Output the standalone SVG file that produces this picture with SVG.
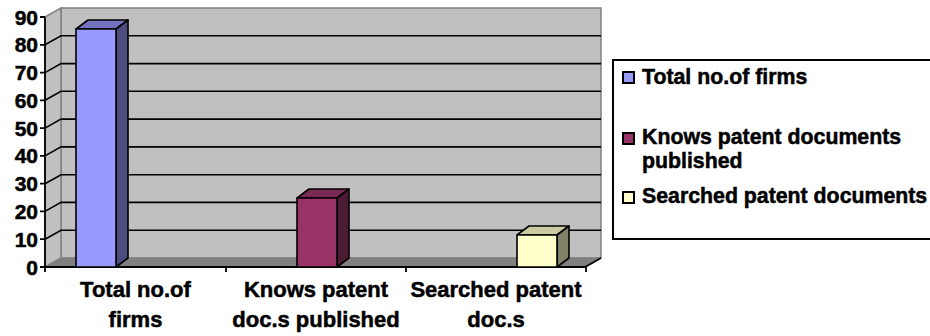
<svg xmlns="http://www.w3.org/2000/svg" width="930" height="336" viewBox="0 0 930 336">
<style>
text{font-family:"Liberation Sans",Arial,sans-serif;font-weight:bold;fill:#000;stroke:#000;stroke-width:0.5}
.ax{font-size:21px;text-anchor:end}
.cat{font-size:22px;text-anchor:middle}
.leg{font-size:21.3px}
.grid{stroke:#000;stroke-width:1.6;fill:none}
.wall{fill:#C0C0C0;stroke:#808080;stroke-width:1.5}
.bar{stroke:#000;stroke-width:1.6;stroke-linejoin:round}
</style>
<rect width="930" height="336" fill="#fff"/>
<g id="plot">
<polygon class="wall" points="61,8 601,8 601,258 61,258"/>
<polygon class="wall" points="45,17 61,8 61,258 45,267"/>
<polygon points="45,267 61,258 601,258 585,267" fill="#808080" stroke="#808080"/>
<g class="grid">
<polyline points="45,44.8 61,35.8 601,35.8"/>
<polyline points="45,72.6 61,63.6 601,63.6"/>
<polyline points="45,100.3 61,91.3 601,91.3"/>
<polyline points="45,128.1 61,119.1 601,119.1"/>
<polyline points="45,155.9 61,146.9 601,146.9"/>
<polyline points="45,183.7 61,174.7 601,174.7"/>
<polyline points="45,211.4 61,202.4 601,202.4"/>
<polyline points="45,239.2 61,230.2 601,230.2"/>
</g>
</g>
<g id="axes" stroke="#000" stroke-width="1.8" fill="none">
<line x1="45" y1="17" x2="45" y2="267"/>
<path d="M40,17H45M40,44.8H45M40,72.6H45M40,100.3H45M40,128.1H45M40,155.9H45M40,183.7H45M40,211.4H45M40,239.2H45M40,267H45"/>
<polyline points="45,267 585,267 601,258"/>
<path d="M45,267V272M226,267V272M406,267V272M586,267V272"/>
</g>
<g id="ylabels">
<text class="ax" x="38" y="24.5">90</text>
<text class="ax" x="38" y="52.3">80</text>
<text class="ax" x="38" y="80.1">70</text>
<text class="ax" x="38" y="107.8">60</text>
<text class="ax" x="38" y="135.6">50</text>
<text class="ax" x="38" y="163.4">40</text>
<text class="ax" x="38" y="191.2">30</text>
<text class="ax" x="38" y="218.9">20</text>
<text class="ax" x="38" y="246.7">10</text>
<text class="ax" x="38" y="274.5">0</text>
</g>
<g id="bar1" class="bar">
<polygon points="76,29 88,20 128,20 116,29" fill="#7373BF"/>
<polygon points="116,29 128,20 128,258 116,267" fill="#4D4D80"/>
<rect x="76" y="29" width="40" height="238" fill="#9999FF"/>
</g>
<g id="bar2" class="bar">
<polygon points="297,198 309,189 349,189 337,198" fill="#7A2952"/>
<polygon points="337,198 349,189 349,258 337,267" fill="#4D1A33"/>
<rect x="297" y="198" width="40" height="69" fill="#993366"/>
</g>
<g id="bar3" class="bar">
<polygon points="517,235 529,226 569,226 557,235" fill="#CCCCA3"/>
<polygon points="557,235 569,226 569,258 557,267" fill="#808066"/>
<rect x="517" y="235" width="40" height="32" fill="#FFFFCC"/>
</g>
<g id="xlabels">
<text class="cat" x="135.5" y="297">Total no.of</text>
<text class="cat" x="135.5" y="327">firms</text>
<text class="cat" x="316" y="297">Knows patent</text>
<text class="cat" x="316" y="327">doc.s published</text>
<text class="cat" x="496" y="297">Searched patent</text>
<text class="cat" x="496" y="327">doc.s</text>
</g>
<g id="legend">
<rect x="613" y="60" width="330" height="179" fill="#fff" stroke="#000" stroke-width="2"/>
<rect x="623" y="72" width="11" height="11" fill="#9999FF" stroke="#000" stroke-width="2"/>
<text class="leg" x="642" y="84">Total no.of firms</text>
<rect x="623" y="133" width="11" height="11" fill="#993366" stroke="#000" stroke-width="2"/>
<text class="leg" x="642" y="144">Knows patent documents</text>
<text class="leg" x="642" y="168">published</text>
<rect x="623" y="192" width="11" height="11" fill="#FFFFCC" stroke="#000" stroke-width="2"/>
<text class="leg" x="642" y="203">Searched patent documents</text>
</g>
</svg>
